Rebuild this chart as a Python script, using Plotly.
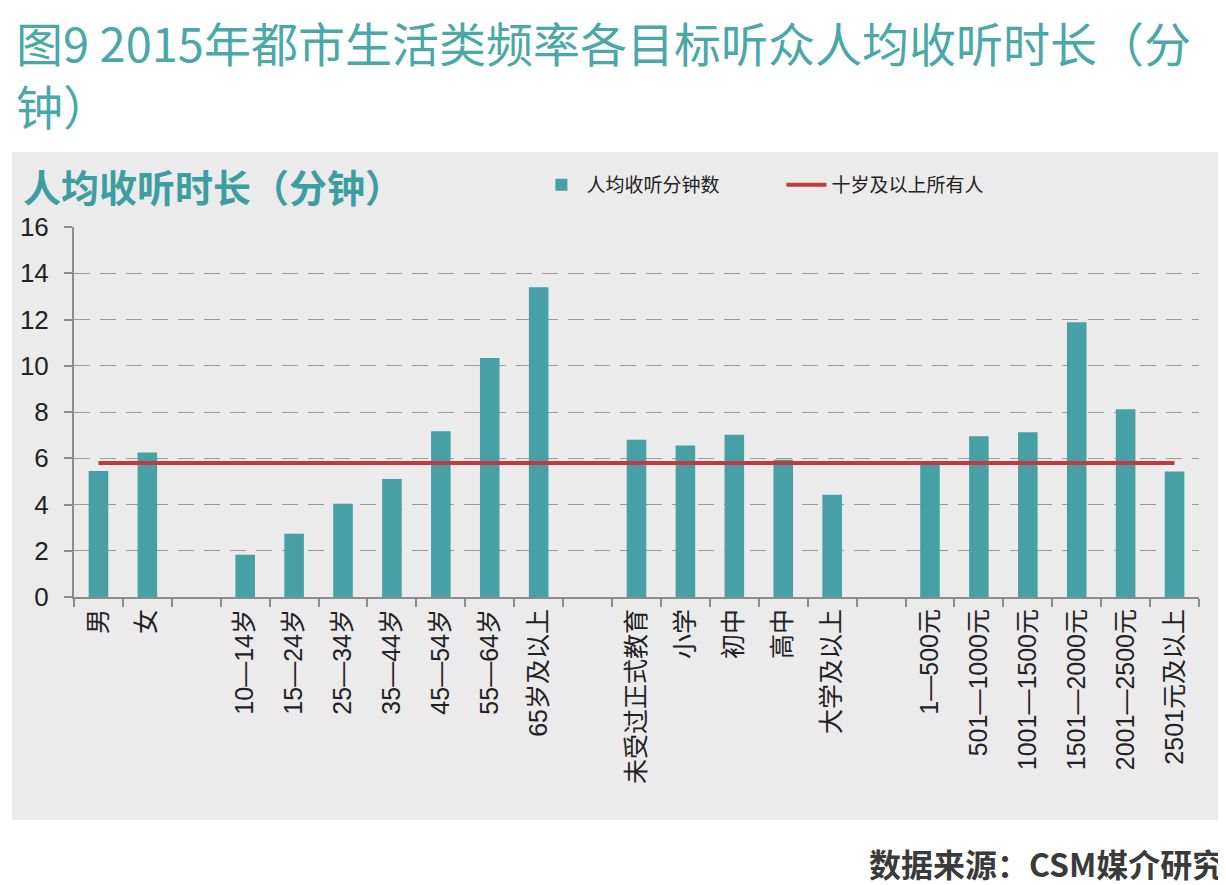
import plotly.graph_objects as go

# categories (blank names are the gaps between groups)
categories = ["男", "女", " ",
              "10—14岁", "15—24岁", "25—34岁", "35—44岁", "45—54岁", "55—64岁", "65岁及以上", "  ",
              "未受过正式教育", "小学", "初中", "高中", "大学及以上", "   ",
              "1—500元", "501—1000元", "1001—1500元", "1501—2000元", "2001—2500元", "2501元及以上"]
minutes = [5.45, 6.25, None,
           1.83, 2.73, 4.03, 5.1, 7.17, 10.33, 13.4, None,
           6.8, 6.55, 7.02, 5.93, 4.42, None,
           5.8, 6.95, 7.12, 11.88, 8.12, 5.43]
all_people = 5.8
all_line = [all_people] * len(categories)

y_ticks = [0, 2, 4, 6, 8, 10, 12, 14, 16]

title_lines = ["图9 2015年都市生活类频率各目标听众人均收听时长（分", "钟）"]

teal = "rgb(70,160,165)"
red = "rgb(192,58,62)"
cjk = "Liberation Sans, Noto Sans CJK SC, sans-serif"

fig = go.Figure()
fig.add_trace(go.Bar(x=categories, y=minutes, name="人均收听分钟数",
                     marker=dict(color=teal, line=dict(width=0))))
fig.add_trace(go.Scatter(x=categories, y=all_line, name="十岁及以上所有人",
                         mode="lines", line=dict(color=red, width=4)))

# grey panel behind the chart
fig.add_shape(type="rect", xref="paper", yref="paper",
              x0=-0.055, x1=1.0187, y0=-0.603, y1=1.203,
              fillcolor="#ebebeb", line=dict(width=0), layer="below")

# title wraps onto a second line like the original
for line, ypos in zip(title_lines, [1.502, 1.330]):
    fig.add_annotation(text=line, xref="paper", yref="paper", x=-0.053, y=ypos,
                       xanchor="left", yanchor="middle", showarrow=False,
                       font=dict(family="Noto Sans CJK SC, sans-serif", size=47, color="rgb(74,168,167)"))
fig.add_annotation(text="<b>人均收听时长（分钟）</b>",
                   xref="paper", yref="paper", x=-0.047, y=1.111,
                   xanchor="left", yanchor="middle", showarrow=False,
                   font=dict(family="Noto Sans CJK SC, sans-serif", size=38, color="rgb(60,158,160)"))
fig.add_annotation(text="<b>数据来源：CSM媒介研究</b>",
                   xref="paper", yref="paper", x=1.024, y=-0.718,
                   xanchor="right", yanchor="middle", showarrow=False,
                   font=dict(family="Noto Sans CJK SC, sans-serif", size=32, color="#3a3a3a"))

fig.update_layout(
    width=1218, height=877,
    margin=dict(l=66, r=27, t=219, b=288),
    paper_bgcolor="white", plot_bgcolor="rgba(0,0,0,0)",
    bargap=0.6,
    font=dict(family=cjk, color="#222"),
    legend=dict(orientation="h", x=0.411, y=1.114, xanchor="left", yanchor="middle",
                bgcolor="rgba(0,0,0,0)", font=dict(size=19, family=cjk, color="#222"),
                entrywidth=190, itemwidth=40),
)
fig.update_xaxes(type="category", range=[-0.5, len(categories) - 0.5], automargin=False,
                 showline=True, linecolor="#8c8c8c", linewidth=2,
                 ticks="outside", tickson="boundaries", ticklen=8, tickcolor="#8c8c8c", tickwidth=2,
                 tickangle=-90, tickfont=dict(size=25, family=cjk, color="#222"),
                 showgrid=False)
fig.update_yaxes(range=[0, 16], tickvals=y_ticks, ticktext=[str(v) for v in y_ticks], automargin=False,
                 showline=True, linecolor="#8c8c8c", linewidth=2,
                 ticks="outside", ticklen=8, tickcolor="#8c8c8c", tickwidth=2, ticklabelstandoff=10,
                 tickfont=dict(size=26, family="Liberation Sans, Arial, sans-serif", color="#222"),
                 showgrid=True, gridcolor="#9c9c9c", gridwidth=1, griddash="16px,10px",
                 zeroline=False)

fig.write_html("out.html")
